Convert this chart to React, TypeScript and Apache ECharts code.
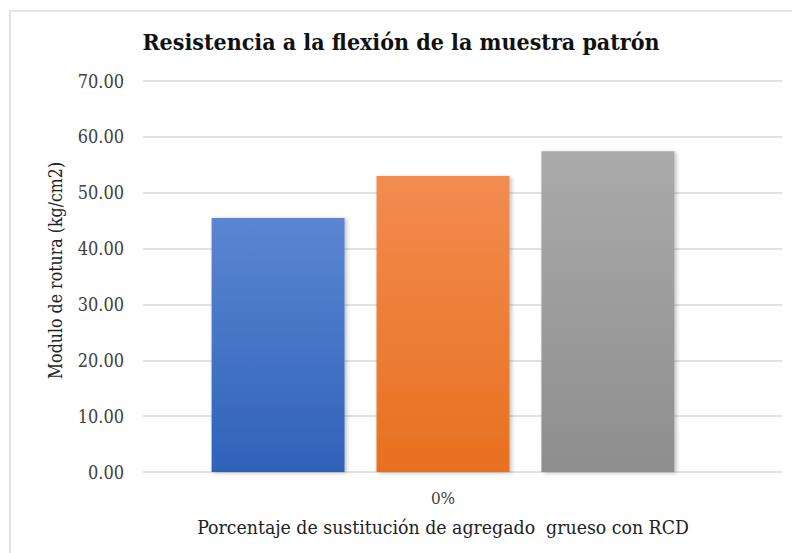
import React, { useEffect, useRef } from "react";
import * as echarts from "echarts";

const categories = ["0%"];
const seriesNames = ["Probeta 1", "Probeta 2", "Probeta 3"];
const values = [45.47, 52.99, 57.41];
const yTicks = { min: 0, max: 70, interval: 10 };
const titleText = "Resistencia a la flexión de la muestra patrón";
const yAxisName = "Modulo de rotura (kg/cm2)";
const xAxisName = "Porcentaje de sustitución de agregado  grueso con RCD";

const gradients = [
  ["#5b86d2", "#2f62b9"],
  ["#f28c50", "#e8701f"],
  ["#aaaaaa", "#8e8e8e"],
];

const FONT = "DejaVu Serif Condensed";

export default function App() {
  const ref = useRef<HTMLDivElement>(null);
  useEffect(() => {
    if (!ref.current) return;
    const chart = echarts.init(ref.current, null, { renderer: "svg" });
    const grid = { top: 81, bottom: 81, right: 10 };
    chart.setOption({
      animation: false,
      backgroundColor: "#ffffff",
      textStyle: { fontFamily: FONT },
      graphic: [
        {
          type: "rect",
          shape: { x: 10, y: 11, width: 800, height: 600 },
          style: { fill: "none", stroke: "#dcdcdc", lineWidth: 1.5 },
          silent: true,
          z: -10,
        },
      ],
      title: {
        text: titleText,
        left: 396,
        textAlign: "center",
        top: 25,
        textStyle: {
          fontFamily: FONT,
          fontWeight: "bold",
          fontSize: 23,
          color: "#111111",
        },
      },
      grid: [
        { ...grid, left: 104 },
        { ...grid, left: 143 },
      ],
      xAxis: [
        {
          type: "category",
          gridIndex: 0,
          data: categories,
          axisLine: { show: false },
          axisTick: { show: false },
          axisLabel: {
            fontFamily: FONT,
            fontSize: 17,
            color: "#404040",
            margin: 17,
          },
          name: xAxisName,
          nameLocation: "middle",
          nameGap: 46,
          nameTextStyle: { fontFamily: FONT, fontSize: 19.3, color: "#222222" },
        },
        {
          type: "category",
          gridIndex: 1,
          data: categories,
          show: false,
        },
      ],
      yAxis: [
        {
          type: "value",
          gridIndex: 0,
          ...yTicks,
          show: false,
          splitLine: { show: false },
        },
        {
          type: "value",
          gridIndex: 1,
          ...yTicks,
          axisLine: { show: false },
          axisTick: { show: false },
          splitLine: { lineStyle: { color: "#d9d9d9", width: 1.5 } },
          axisLabel: {
            fontFamily: FONT,
            fontSize: 18,
            color: "#404040",
            margin: 19,
            formatter: (v: number) => v.toFixed(2),
          },
          name: yAxisName,
          nameLocation: "middle",
          nameGap: 78,
          nameRotate: 90,
          nameTextStyle: {
            fontFamily: FONT,
            fontSize: 17.6,
            color: "#222222",
            padding: [0, 0, 0, 12],
          },
        },
      ],
      series: values.map((v, i) => ({
        type: "bar",
        name: seriesNames[i],
        xAxisIndex: 0,
        yAxisIndex: 0,
        data: [v],
        barWidth: 133,
        barGap: "24%",
        itemStyle: {
          color: new echarts.graphic.LinearGradient(0, 0, 0, 1, [
            { offset: 0, color: gradients[i][0] },
            { offset: 1, color: gradients[i][1] },
          ]),
          shadowColor: "rgba(0,0,0,0.25)",
          shadowBlur: 4,
          shadowOffsetX: 2,
          shadowOffsetY: 1,
        },
      })),
    });
    return () => chart.dispose();
  }, []);
  return (
    <div
      ref={ref}
      style={{ position: "absolute", left: 0, top: 0, width: 792, height: 553 }}
    />
  );
}
